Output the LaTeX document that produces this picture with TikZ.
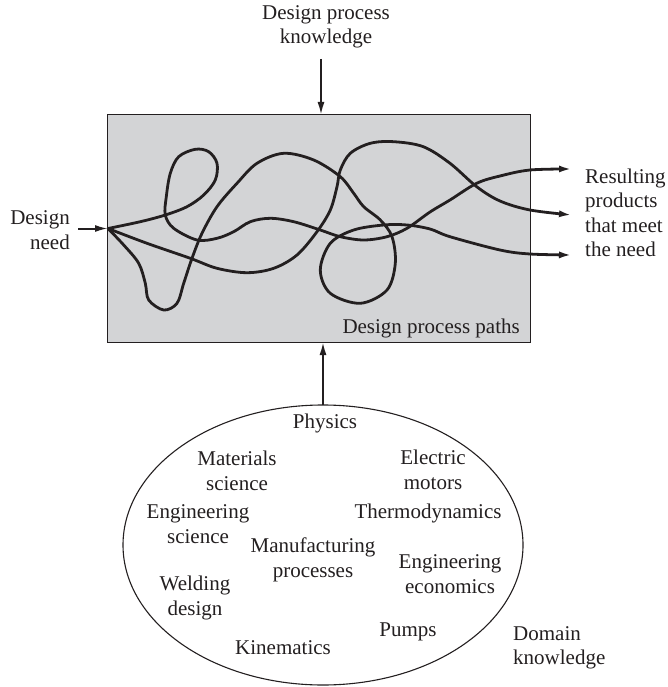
\documentclass[tikz,border=0pt]{standalone}
\usepackage{fontspec}
\setmainfont{Liberation Serif}
\usetikzlibrary{arrows.meta,shapes.geometric}
\definecolor{ink}{RGB}{35,31,32}
\definecolor{boxfill}{RGB}{211,212,214}
\tikzset{
  lbl/.style={inner sep=0pt, text=ink, font=\fontsize{21}{24.5}\selectfont},
  arr/.style={draw=ink, line width=2pt, -{Latex[length=13pt,width=7pt]}},
  dpath/.style={draw=ink, line width=2.8pt, line join=round, line cap=round},
  darr/.style={dpath, -{Latex[length=13pt,width=7pt]}},
  procbox/.style={draw=ink, line width=1pt, fill=boxfill, inner sep=0pt, outer sep=0pt},
  domell/.style={draw=ink, line width=1.1pt, ellipse, inner sep=0pt, outer sep=0pt}
}
\begin{document}
\begin{tikzpicture}[x=1pt,y=-1pt]
\useasboundingbox (0,0) rectangle (668,687);
% process box
\node[procbox, anchor=north west, minimum width=423pt, minimum height=227pt] (box) at (107,115) {};
\node[lbl, anchor=base east] (paths) at (520,333) {Design process paths};
% top input
\node[lbl, align=center] (dpk) at (326,27) {Design process\\knowledge};
\coordinate (ktop) at (321,59);
\draw[arr] (ktop) -- (ktop |- box.north);
% design need
\node[lbl, align=right, anchor=east] (need) at (70,230) {Design\\need};
\coordinate (S) at (108,228.5);
\coordinate (nstart) at (78,228.5);
\draw[arr] (nstart) -- (S);
% results
\node[lbl, align=left, anchor=west] (res) at (585,213) {Resulting\\products\\that meet\\the need};
\coordinate (r1) at (572,169);
\coordinate (r2) at (572,215);
\coordinate (r3) at (572,255);
% path A
\draw[darr] plot[smooth, tension=0.55] coordinates {(S) (140.3,221.7) (165.3,215) (187,206.7) (203.7,195) (215.3,180) (217,163.3) (208.7,151.7) (195.3,149.3) (178.7,156.7) (170.3,173.3) (166.3,196.7) (165.3,215) (173.7,228.3) (197,240) (217,238.3) (233.7,231.7) (250.3,221.7) (270.3,218.3) (293.7,221.7) (320.3,230) (340.3,236.7) (363.7,240) (387,236.7) (407,228.3) (430,212) (450,200) (476.7,183.3) (500,176) (530,170) (r1)};
% path B
\draw[darr] plot[smooth, tension=0.55] coordinates {(S) (147,243.3) (190.3,258.3) (217,268.3) (247,272.7) (273.7,268.3) (297,255) (317,231.7) (330.3,210) (337,186.7) (340.3,170) (350.3,153.3) (370.3,143.3) (393.7,141.7) (423.3,146.7) (450,163.3) (476.7,186.7) (500,201) (530,210) (r2)};
% path C
\draw[darr] plot[smooth, tension=0.55] coordinates {(S) (123.7,245) (138.7,263.3) (145.3,283.3) (148.7,300) (163.7,310) (177,303.3) (183.7,283.3) (192,258.3) (202,233.3) (217,206.7) (237,183.3) (257,163.3) (283.7,153.3) (313.7,160) (340.3,176.7) (353.7,193.3) (363.7,206.7) (380.3,220) (392,236.7) (395.3,263.3) (387,290) (360.3,303.3) (330.3,293.3) (320.3,270) (330.3,243.3) (353.7,230) (383.7,225) (407,225) (430,229) (450,236.7) (500,250) (530,254) (r3)};
% domain ellipse
\node[domell, minimum width=400pt, minimum height=280pt] (dom) at (323,545) {};
\draw[arr] (dom.north) -- (dom.north |- box.south);
\node[lbl] (phys) at (325,423) {Physics};
\node[lbl, align=center] (mat) at (237,471) {Materials\\science};
\node[lbl, align=center] (elec) at (433,470) {Electric\\motors};
\node[lbl, align=center] (engsci) at (198,524) {Engineering\\science};
\node[lbl] (thermo) at (428,513) {Thermodynamics};
\node[lbl, align=center] (manu) at (313,560) {Manufacturing\\processes};
\node[lbl, align=center] (engeco) at (450,574) {Engineering\\economics};
\node[lbl, align=center] (weld) at (195,598) {Welding\\design};
\node[lbl] (pumps) at (408,632) {Pumps};
\node[lbl] (kin) at (283,648) {Kinematics};
\node[lbl, align=left, anchor=west] (domk) at (513,648) {Domain\\knowledge};
\end{tikzpicture}
\end{document}
